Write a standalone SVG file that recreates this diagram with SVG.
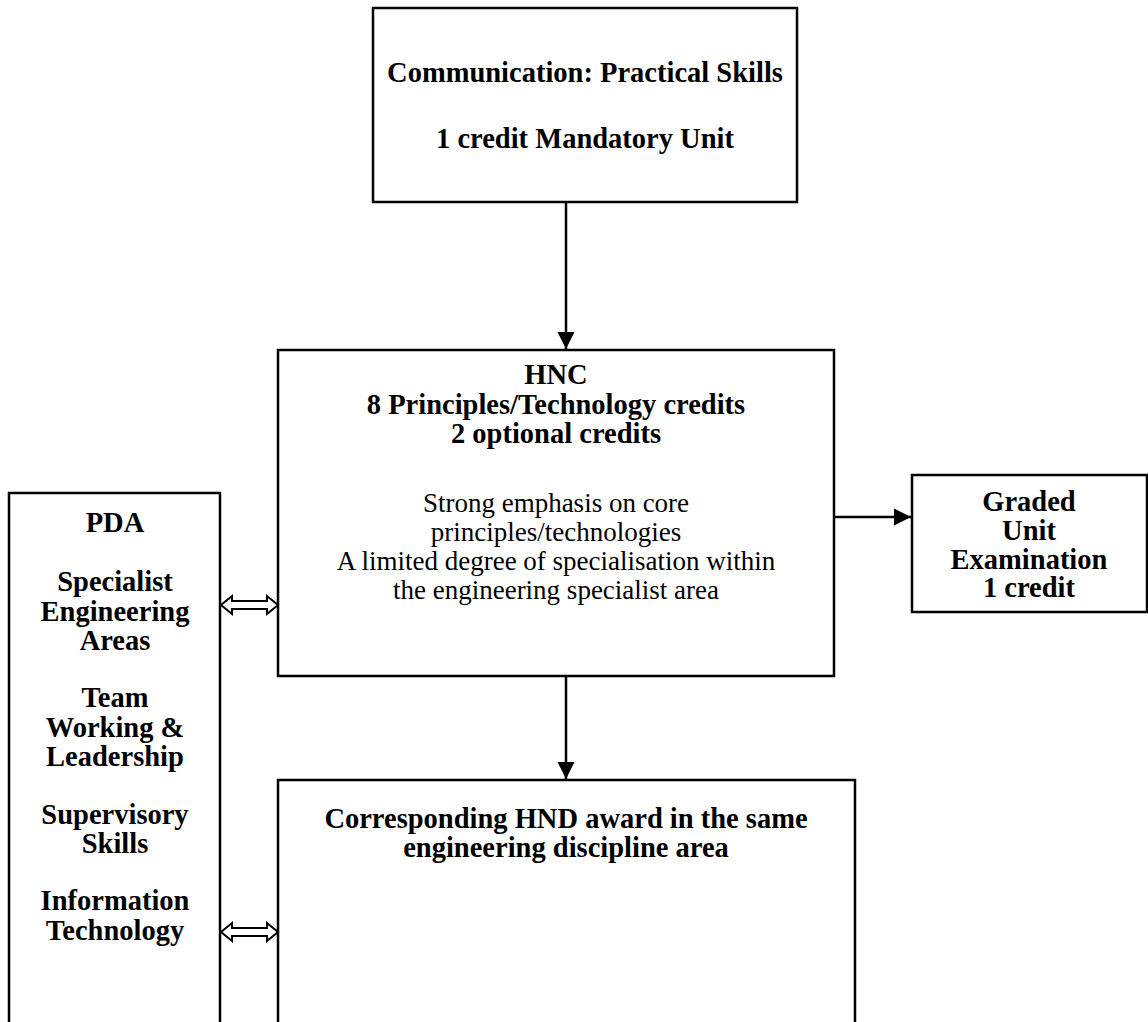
<svg xmlns="http://www.w3.org/2000/svg" width="1148" height="1022" viewBox="0 0 1148 1022">
<style>
.box{fill:#fff;stroke:#000;stroke-width:2.5}
.b{font-family:"Liberation Serif","Times New Roman",serif;font-weight:bold;font-size:28.5px;text-anchor:middle;fill:#000}
.n{font-family:"Liberation Serif","Times New Roman",serif;font-size:27px;text-anchor:middle;fill:#000}
.line{stroke:#000;stroke-width:2.5;fill:none}
.dbl{fill:#fff;stroke:#000;stroke-width:2}
</style>
<defs>
<marker id="ah" viewBox="0 0 10 10" refX="10" refY="5" markerWidth="7" markerHeight="7" markerUnits="strokeWidth" orient="auto">
<path d="M0,0 L10,5 L0,10 Z" fill="#000"/>
</marker>
</defs>
<g id="comm">
<rect class="box" x="373" y="8" width="424" height="194"/>
<text class="b" x="585" y="82">Communication: Practical Skills</text>
<text class="b" x="585" y="148">1 credit Mandatory Unit</text>
</g>
<g id="hnc">
<rect class="box" x="278" y="350" width="556" height="326"/>
<text class="b" x="556" y="384">HNC</text>
<text class="b" x="556" y="414">8 Principles/Technology credits</text>
<text class="b" x="556" y="443">2 optional credits</text>
<text class="n" x="556" y="512">Strong emphasis on core</text>
<text class="n" x="556" y="541">principles/technologies</text>
<text class="n" x="556" y="570">A limited degree of specialisation within</text>
<text class="n" x="556" y="599">the engineering specialist area</text>
</g>
<g id="graded">
<rect class="box" x="912" y="475" width="235" height="137"/>
<text class="b" x="1029" y="511">Graded</text>
<text class="b" x="1029" y="540">Unit</text>
<text class="b" x="1029" y="569">Examination</text>
<text class="b" x="1029" y="597">1 credit</text>
</g>
<g id="pda">
<rect class="box" x="9" y="493" width="211" height="540"/>
<text class="b" x="115" y="532">PDA</text>
<text class="b" x="115" y="591">Specialist</text>
<text class="b" x="115" y="621">Engineering</text>
<text class="b" x="115" y="650">Areas</text>
<text class="b" x="115" y="707">Team</text>
<text class="b" x="115" y="737">Working &amp;</text>
<text class="b" x="115" y="766">Leadership</text>
<text class="b" x="115" y="824">Supervisory</text>
<text class="b" x="115" y="853">Skills</text>
<text class="b" x="115" y="910">Information</text>
<text class="b" x="115" y="940">Technology</text>
</g>
<g id="hnd">
<rect class="box" x="278" y="780" width="577" height="260"/>
<text class="b" x="566" y="828">Corresponding HND award in the same</text>
<text class="b" x="566" y="857">engineering discipline area</text>
</g>
<g id="connectors">
<line class="line" x1="566" y1="202" x2="566" y2="349" marker-end="url(#ah)"/>
<line class="line" x1="834" y1="517" x2="911" y2="517" marker-end="url(#ah)"/>
<line class="line" x1="566" y1="676" x2="566" y2="779" marker-end="url(#ah)"/>
<path class="dbl" d="M221,605 L232,596 L232,601 L267,601 L267,596 L278,605 L267,614 L267,609 L232,609 L232,614 Z"/>
<path class="dbl" d="M221,932 L232,923 L232,928 L267,928 L267,923 L278,932 L267,941 L267,936 L232,936 L232,941 Z"/>
</g>
</svg>
